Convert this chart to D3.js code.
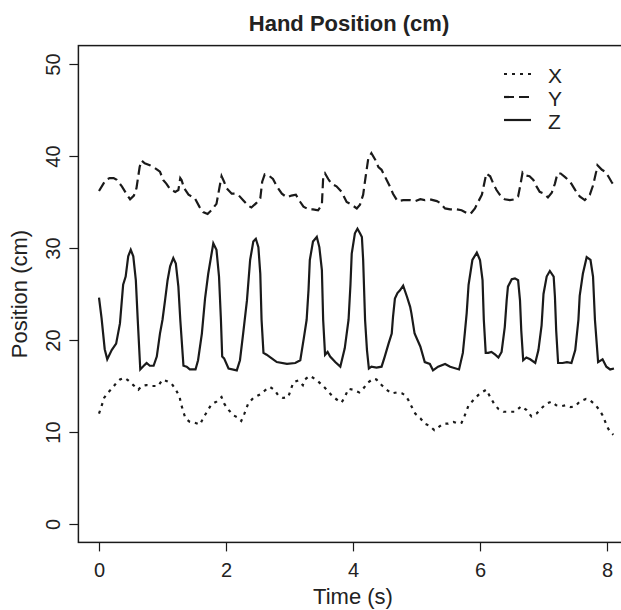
<!DOCTYPE html>
<html>
<head>
<meta charset="utf-8">
<script src="https://cdn.jsdelivr.net/npm/d3@7"></script>
<style>
  body { margin: 0; background: #fff; }
  text { font-family: "Liberation Sans", Arial, sans-serif; fill: #222; }
</style>
</head>
<body>
<svg width="621" height="610"></svg>
<script>
// X (dotted)
const xT = [0, 0.04, 0.08, 0.13, 0.2, 0.27, 0.33, 0.4, 0.46, 0.54, 0.62, 0.67, 0.75, 0.83, 0.93, 1.0, 1.08, 1.14, 1.21, 1.27, 1.29, 1.32, 1.36, 1.43, 1.51, 1.59, 1.64, 1.7, 1.77, 1.85, 1.93, 1.97, 2.04, 2.12, 2.18, 2.24, 2.29, 2.35, 2.43, 2.54, 2.61, 2.69, 2.76, 2.82, 2.9, 2.98, 3.02, 3.06, 3.14, 3.21, 3.24, 3.32, 3.37, 3.45, 3.53, 3.61, 3.69, 3.77, 3.82, 3.87, 3.93, 4.0, 4.1, 4.16, 4.24, 4.32, 4.37, 4.45, 4.53, 4.61, 4.69, 4.77, 4.82, 4.87, 4.92, 4.98, 5.06, 5.13, 5.2, 5.28, 5.34, 5.42, 5.5, 5.58, 5.66, 5.71, 5.76, 5.82, 5.9, 5.97, 6.05, 6.1, 6.16, 6.22, 6.29, 6.37, 6.47, 6.55, 6.65, 6.73, 6.81, 6.89, 6.97, 7.05, 7.13, 7.2, 7.27, 7.35, 7.43, 7.5, 7.57, 7.67, 7.74, 7.81, 7.88, 7.94, 8.0, 8.05, 8.1];
const xV = [12.0, 12.8, 13.7, 14.2, 14.7, 15.3, 15.7, 15.9, 15.6, 15.1, 14.6, 15.0, 15.1, 15.0, 15.0, 15.7, 15.5, 15.3, 14.6, 13.8, 13.1, 12.4, 11.5, 11.1, 11.0, 10.8, 11.5, 12.2, 13.0, 13.3, 13.8, 13.1, 12.4, 11.8, 11.6, 11.2, 12.0, 13.1, 13.7, 14.1, 14.5, 14.9, 14.6, 14.0, 13.7, 13.8, 14.6, 15.4, 15.6, 15.1, 15.7, 16.1, 15.9, 15.5, 15.0, 14.4, 13.8, 13.4, 13.2, 13.8, 14.7, 14.6, 14.3, 14.7, 15.4, 15.8, 15.7, 15.1, 14.6, 14.2, 14.3, 14.2, 14.0, 13.5, 12.8, 12.0, 11.5, 10.9, 10.7, 10.2, 10.5, 10.9, 10.9, 11.1, 10.9, 11.0, 11.8, 12.9, 13.5, 14.0, 14.4, 14.6, 13.8, 13.1, 12.5, 12.2, 12.2, 12.2, 12.8, 12.4, 11.7, 12.0, 12.6, 13.1, 13.3, 12.9, 12.8, 12.9, 12.7, 12.8, 13.3, 13.6, 13.4, 13.0, 12.4, 11.7, 10.6, 10.0, 9.7];

// Y (dashed)
const yT = [0, 0.07, 0.11, 0.17, 0.23, 0.28, 0.36, 0.44, 0.49, 0.55, 0.59, 0.64, 0.67, 0.72, 0.8, 0.88, 0.96, 1.01, 1.06, 1.12, 1.2, 1.25, 1.28, 1.3, 1.34, 1.41, 1.51, 1.58, 1.64, 1.71, 1.77, 1.85, 1.89, 1.93, 1.97, 2.01, 2.09, 2.14, 2.19, 2.27, 2.35, 2.4, 2.48, 2.54, 2.57, 2.61, 2.67, 2.74, 2.8, 2.88, 2.96, 3.03, 3.1, 3.17, 3.22, 3.3, 3.37, 3.45, 3.51, 3.53, 3.56, 3.61, 3.66, 3.74, 3.82, 3.9, 3.98, 4.06, 4.11, 4.16, 4.2, 4.24, 4.29, 4.35, 4.4, 4.45, 4.53, 4.58, 4.63, 4.7, 4.79, 4.9, 4.98, 5.06, 5.13, 5.21, 5.32, 5.37, 5.45, 5.53, 5.63, 5.71, 5.79, 5.85, 5.92, 5.97, 6.03, 6.06, 6.1, 6.16, 6.21, 6.26, 6.31, 6.39, 6.47, 6.55, 6.6, 6.64, 6.67, 6.71, 6.78, 6.84, 6.89, 6.94, 7.01, 7.07, 7.13, 7.18, 7.22, 7.27, 7.34, 7.42, 7.5, 7.57, 7.65, 7.73, 7.78, 7.83, 7.85, 7.92, 7.97, 8.02, 8.07, 8.11];
const yV = [36.2, 37.0, 37.4, 37.6, 37.6, 37.4, 36.7, 35.8, 35.3, 35.7, 36.5, 38.8, 39.5, 39.2, 39.0, 38.7, 38.3, 37.4, 37.0, 36.4, 36.1, 36.3, 37.6, 37.4, 36.5, 35.8, 35.4, 34.5, 33.9, 33.7, 34.1, 34.8, 36.3, 37.8, 37.2, 36.5, 35.9, 35.9, 35.8, 35.2, 34.6, 34.4, 34.9, 35.4, 37.2, 38.0, 37.9, 37.5, 36.7, 35.9, 35.5, 35.7, 35.8, 35.0, 34.5, 34.2, 34.2, 34.1, 34.7, 37.6, 38.1, 37.5, 37.0, 36.7, 36.1, 35.0, 34.7, 34.3, 34.7, 35.8, 37.8, 39.7, 40.3, 39.6, 38.8, 38.5, 37.4, 36.7, 35.9, 35.1, 35.2, 35.2, 35.1, 35.3, 35.2, 35.3, 35.1, 34.9, 34.3, 34.2, 34.2, 34.1, 33.8, 33.7, 34.3, 35.0, 35.8, 36.8, 38.1, 37.8, 37.0, 36.3, 35.8, 35.3, 35.2, 35.3, 35.6, 37.0, 38.2, 37.9, 37.8, 37.4, 36.7, 36.1, 35.9, 35.5, 36.0, 37.0, 38.1, 38.1, 37.7, 37.2, 36.3, 35.6, 35.2, 35.8, 36.8, 38.3, 39.0, 38.5, 38.3, 37.8, 37.2, 36.8];

// Z (solid)
const zT = [0, 0.04, 0.09, 0.13, 0.2, 0.27, 0.33, 0.38, 0.42, 0.46, 0.5, 0.54, 0.58, 0.61, 0.65, 0.72, 0.75, 0.8, 0.86, 0.91, 0.96, 1.0, 1.04, 1.08, 1.12, 1.17, 1.21, 1.25, 1.28, 1.33, 1.38, 1.43, 1.52, 1.56, 1.62, 1.67, 1.72, 1.8, 1.85, 1.89, 1.92, 1.94, 1.97, 2.04, 2.17, 2.22, 2.27, 2.33, 2.38, 2.43, 2.47, 2.51, 2.54, 2.56, 2.59, 2.64, 2.72, 2.8, 2.96, 3.09, 3.17, 3.23, 3.27, 3.3, 3.32, 3.37, 3.43, 3.47, 3.51, 3.53, 3.56, 3.6, 3.64, 3.72, 3.8, 3.87, 3.93, 3.96, 3.98, 4.03, 4.07, 4.11, 4.14, 4.16, 4.19, 4.22, 4.25, 4.29, 4.37, 4.45, 4.5, 4.56, 4.61, 4.63, 4.66, 4.7, 4.74, 4.79, 4.85, 4.9, 4.92, 4.97, 5.06, 5.13, 5.21, 5.26, 5.34, 5.45, 5.53, 5.67, 5.73, 5.76, 5.79, 5.82, 5.88, 5.95, 6.0, 6.04, 6.06, 6.09, 6.13, 6.18, 6.24, 6.29, 6.34, 6.39, 6.42, 6.44, 6.5, 6.55, 6.6, 6.63, 6.65, 6.68, 6.73, 6.79, 6.87, 6.92, 6.97, 7.0, 7.05, 7.1, 7.16, 7.18, 7.2, 7.23, 7.3, 7.37, 7.44, 7.5, 7.55, 7.57, 7.62, 7.68, 7.74, 7.78, 7.81, 7.86, 7.93, 7.99, 8.05, 8.11];
const zV = [24.6, 22.4, 19.0, 17.9, 18.9, 19.6, 21.8, 26.0, 26.9, 29.1, 29.8, 29.1, 26.5, 22.2, 16.8, 17.3, 17.5, 17.2, 17.2, 18.2, 20.7, 22.2, 24.3, 26.5, 28.0, 28.9, 28.3, 25.8, 22.2, 17.2, 17.1, 16.8, 16.8, 17.8, 20.7, 24.5, 27.2, 30.5, 29.8, 26.9, 22.2, 18.2, 18.0, 16.9, 16.7, 17.8, 20.7, 24.3, 28.7, 30.7, 31.0, 30.1, 27.2, 22.2, 18.6, 18.4, 18.0, 17.6, 17.4, 17.5, 17.8, 20.4, 22.2, 25.5, 28.7, 30.7, 31.2, 30.1, 27.6, 22.2, 18.4, 18.7, 18.2, 17.6, 17.1, 19.1, 22.2, 26.0, 29.4, 31.6, 32.1, 31.6, 31.2, 28.7, 22.2, 18.9, 16.9, 17.1, 17.0, 17.1, 18.2, 19.6, 20.7, 22.5, 24.5, 25.1, 25.4, 25.9, 24.7, 23.6, 22.9, 20.7, 19.3, 17.6, 17.4, 16.7, 17.1, 17.4, 17.1, 16.8, 18.6, 20.7, 22.9, 26.0, 28.7, 29.5, 28.7, 26.5, 22.2, 18.6, 18.6, 18.7, 18.4, 18.1, 18.7, 21.4, 24.3, 25.8, 26.6, 26.7, 26.5, 24.3, 21.0, 17.8, 18.1, 17.9, 17.5, 18.9, 21.6, 25.0, 26.9, 27.5, 26.9, 24.7, 21.0, 17.5, 17.5, 17.6, 17.5, 18.9, 22.2, 24.8, 27.2, 29.0, 28.7, 26.9, 22.2, 17.6, 17.9, 17.1, 16.8, 16.9];

const xTicks = [0, 2, 4, 6, 8];
const yTicks = [0, 10, 20, 30, 40, 50];
const legendNames = ['X', 'Y', 'Z'];

const series = [
    { name: 'X', t: xT, v: xV, dash: '3,5' },
    { name: 'Y', t: yT, v: yV, dash: '10,5' },
    { name: 'Z', t: zT, v: zV, dash: null },
];

const svg = d3.select('svg');
const ink = '#1a1a1a';

// R style: 4% padding on both axes
const x = d3.scaleLinear().domain([0, 8]).range([99, 607]);
const y = d3.scaleLinear().domain([0, 50]).range([524, 64]);
const xPad = (d3.max(zT) - d3.min(zT)) * 0.04;
const xLo = 0 - xPad, xHi = d3.max(zT) + xPad;
const yLo = -2, yHi = 52;

const line = d3.line().x(d => x(d[0])).y(d => y(d[1]));

const lines = svg.append('g').attr('class', 'lines');
series.forEach(s => {
    lines
        .append('path')
        .datum(s.t.map((t, i) => [t, s.v[i]]))
        .attr('d', line)
        .attr('fill', 'none')
        .attr('stroke', ink)
        .attr('stroke-width', 2.2)
        .attr('stroke-dasharray', s.dash);
});

// box
svg
    .append('rect')
    .attr('x', x(xLo))
    .attr('y', y(yHi))
    .attr('width', x(xHi) - x(xLo))
    .attr('height', y(yLo) - y(yHi))
    .attr('fill', 'none')
    .attr('stroke', ink)
    .attr('stroke-width', 1.5);

// axes
const xAxis = svg
    .append('g')
    .attr('transform', 'translate(0,' + y(yLo) + ')')
    .call(d3.axisBottom(x).tickValues(xTicks).tickSize(9).tickPadding(11));
const yAxis = svg
    .append('g')
    .attr('transform', 'translate(' + x(xLo) + ',0)')
    .call(d3.axisLeft(y).tickValues(yTicks).tickSize(9));

[xAxis, yAxis].forEach(a => {
    a.select('.domain').remove();
    a.selectAll('.tick line').attr('stroke', ink).attr('stroke-width', 1.2);
    a.selectAll('.tick text')
        .attr('font-family', '"Liberation Sans", Arial, sans-serif')
        .attr('font-size', 20)
        .attr('fill', '#222');
});

// y labels are parallel to the axis, as in R
yAxis.selectAll('.tick text')
    .attr('x', null)
    .attr('dy', null)
    .attr('text-anchor', 'middle')
    .attr('transform', 'translate(-25,0) rotate(-90)')
    .attr('dominant-baseline', 'central');

// titles
svg.append('text')
    .attr('x', 349)
    .attr('y', 31)
    .attr('text-anchor', 'middle')
    .attr('font-size', 22)
    .attr('font-weight', 'bold')
    .text('Hand Position (cm)');

svg.append('text')
    .attr('x', 353)
    .attr('y', 604)
    .attr('text-anchor', 'middle')
    .attr('font-size', 22)
    .text('Time (s)');

svg.append('text')
    .attr('transform', 'translate(27,' + y(25) + ') rotate(-90)')
    .attr('text-anchor', 'middle')
    .attr('font-size', 22)
    .text('Position (cm)');

// legend
const legend = svg.append('g').attr('class', 'legend');
legendNames.forEach((n, i) => {
    const s = series.find(d => d.name === n);
    const ly = 74 + i * 23;
    legend.append('path')
        .attr('d', `M504 ${ly} L531 ${ly}`)
        .attr('stroke', ink)
        .attr('stroke-width', 2.2)
        .attr('stroke-dasharray', s.dash);
    legend.append('text')
        .attr('x', 548)
        .attr('y', ly + 1)
        .attr('dominant-baseline', 'central')
        .attr('font-size', 21)
        .text(n);
});
</script>
</body>
</html>
